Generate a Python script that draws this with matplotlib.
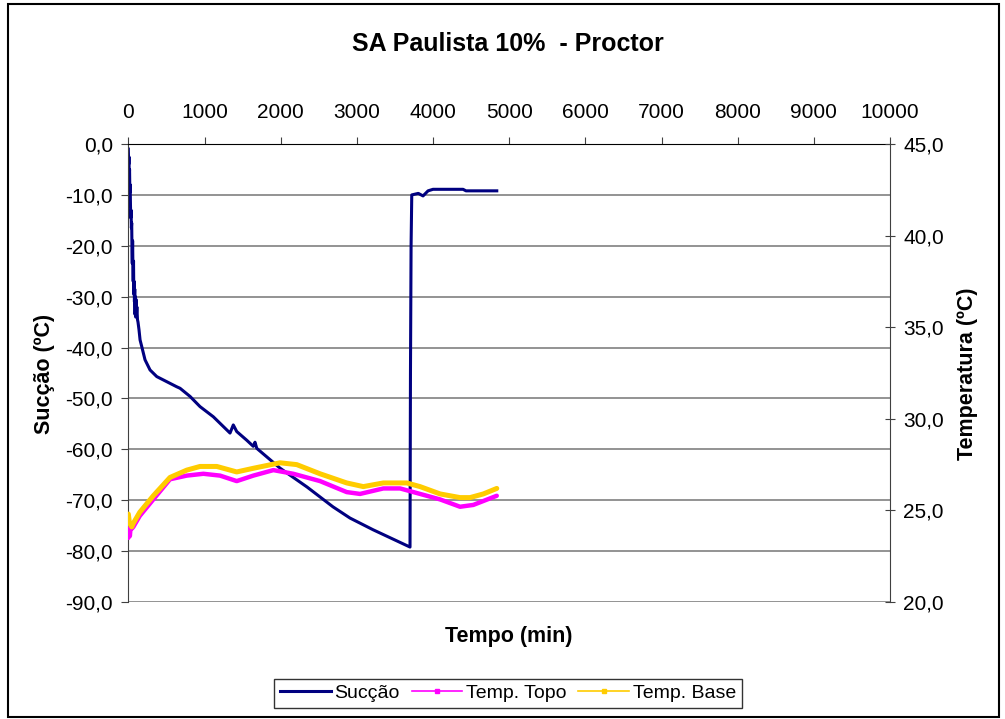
import matplotlib.pyplot as plt
from matplotlib.lines import Line2D
from matplotlib.patches import Rectangle
from matplotlib.ticker import FuncFormatter, MultipleLocator

plt.rcParams["font.family"] = ["Liberation Sans", "DejaVu Sans"]

# Sucção (left axis) - time in minutes
t_succao = [0, 4, 8, 12, 16, 20, 24, 28, 32, 36, 40, 44, 48, 52, 56, 60,
            64, 68, 72, 76, 80, 84, 88, 92, 96, 100, 106, 112, 120, 127,
            140, 154, 176, 219, 285, 373, 504, 635, 679, 810, 941, 1116,
            1335, 1378, 1423, 1554, 1640, 1663, 1686, 1992, 2346, 2687,
            2910, 3213, 3698, 3704, 3712, 3721, 3807, 3869, 3935, 4000,
            4394, 4433, 4837]
succao = [-1.0, -4.0, -2.5, -6.5, -5.0, -9.5, -8.0, -12.0, -14.5, -13.0,
          -16.5, -15.5, -21.0, -23.5, -19.0, -24.0, -27.0, -23.0, -29.5,
          -27.0, -31.0, -28.5, -33.5, -30.0, -34.0, -30.5, -33.5, -32.0,
          -34.5, -35.0, -36.5, -38.5, -39.8, -42.4, -44.4, -45.7, -46.7,
          -47.7, -48.0, -49.6, -51.6, -53.6, -56.8, -55.2, -56.5, -58.2,
          -59.4, -58.6, -59.8, -63.7, -67.4, -71.3, -73.5, -75.8, -79.2,
          -45.0, -20.0, -10.0, -9.7, -10.2, -9.2, -8.9, -8.9, -9.2, -9.2]

# Temperatures (right axis)
t_topo = [0, 10, 20, 30, 45, 66, 150, 328, 547, 767, 985, 1204, 1423,
          1641, 1904, 2166, 2517, 2867, 3042, 3348, 3568, 3830, 4093,
          4355, 4529, 4837]
temp_topo = [23.5, 24.0, 23.6, 24.1, 24.0, 24.1, 24.7, 25.6, 26.7, 26.9,
             27.0, 26.9, 26.6, 26.9, 27.2, 27.0, 26.6, 26.0, 25.9, 26.2,
             26.2, 25.9, 25.6, 25.2, 25.3, 25.8]

t_base = [0, 15, 30, 45, 66, 150, 328, 547, 767, 941, 1161, 1423, 1641,
          1992, 2211, 2517, 2867, 3085, 3348, 3655, 3830, 4093, 4355,
          4486, 4661, 4837]
temp_base = [24.8, 24.3, 24.2, 24.1, 24.3, 24.9, 25.8, 26.8, 27.2, 27.4,
             27.4, 27.1, 27.3, 27.6, 27.5, 27.0, 26.5, 26.3, 26.5, 26.5,
             26.3, 25.9, 25.7, 25.7, 25.9, 26.2]

x_ticks = list(range(0, 10001, 1000))

navy = "#000080"
magenta = "#FF00FF"
gold = "#FFCC00"
grid_gray = "#808080"

fig = plt.figure(figsize=(10.05, 7.19), dpi=100)
fig.patches.append(Rectangle((0.008, 0.003), 0.986, 0.991, transform=fig.transFigure,
                             fill=False, edgecolor="black", linewidth=1.5))

ax = fig.add_axes([0.1277, 0.1627, 0.7579, 0.6370])
ax2 = ax.twinx()

comma = FuncFormatter(lambda v, _: f"{v:.1f}".replace(".", ","))

ax.plot(t_succao, succao, color=navy, lw=2.2, solid_joinstyle="round")
ax2.plot(t_topo, temp_topo, color=magenta, lw=3.2, solid_capstyle="round")
ax2.plot(t_base, temp_base, color=gold, lw=3.6, solid_capstyle="round")

ax.set_xlim(0, 10000)
ax.set_ylim(-90, 0)
ax2.set_ylim(20, 45)
ax.set_xticks(x_ticks)
ax.yaxis.set_major_locator(MultipleLocator(10))
ax2.yaxis.set_major_locator(MultipleLocator(5))
ax.yaxis.set_major_formatter(comma)
ax2.yaxis.set_major_formatter(comma)

ax.xaxis.tick_top()
ax.xaxis.set_label_position("bottom")
ax.tick_params(axis="x", direction="out", length=5, pad=11, labelsize=15,
               color="#404040")
ax.tick_params(axis="y", direction="out", length=5, pad=6, labelsize=15,
               color="#404040")
ax2.tick_params(axis="y", direction="inout", length=7, pad=6, labelsize=15,
                color="#404040")

ax.yaxis.grid(True, color=grid_gray, lw=1.2)
ax.set_axisbelow(True)
ax.spines["top"].set_color("black")
ax.spines["bottom"].set_visible(False)
ax2.spines["bottom"].set_visible(False)
ax.spines["left"].set_color("#404040")
ax2.spines["right"].set_color("#404040")
ax2.spines["left"].set_visible(False)
ax2.spines["top"].set_visible(False)
ax.spines["right"].set_visible(False)

fig.text(0.5055, 0.939, "SA Paulista 10%  - Proctor", ha="center", va="center",
         fontsize=18, fontweight="bold")
fig.text(0.506, 0.1154, "Tempo (min)", ha="center", va="center",
         fontsize=15.5, fontweight="bold")
fig.text(0.044, 0.48, "Sucção (ºC)", ha="center", va="center", rotation=90,
         fontsize=15.5, fontweight="bold")
fig.text(0.963, 0.48, "Temperatura (ºC)", ha="center", va="center", rotation=90,
         fontsize=15.5, fontweight="bold")

handles = [
    Line2D([], [], color=navy, lw=2.2),
    Line2D([], [], color=magenta, lw=1.2, marker="s", markersize=2.5),
    Line2D([], [], color=gold, lw=1.2, marker="s", markersize=2.5),
]
leg = fig.legend(handles, ["Sucção", "Temp. Topo", "Temp. Base"],
                 loc="center", bbox_to_anchor=(0.5055, 0.0355), ncol=3,
                 fontsize=14, frameon=True, fancybox=False, borderpad=0.3,
                 handlelength=2.6, handletextpad=0.2, columnspacing=0.6)
leg.get_frame().set_edgecolor("black")
leg.get_frame().set_linewidth(1.0)

fig.savefig("out.png", dpi=100)
